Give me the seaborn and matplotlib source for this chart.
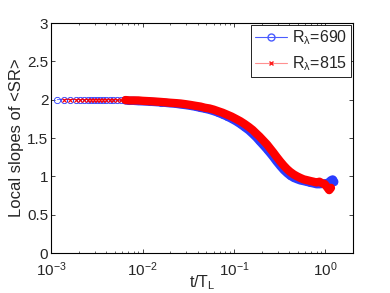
import numpy as np
import pandas as pd
import matplotlib
matplotlib.use("Agg")
import matplotlib.pyplot as plt
import seaborn as sns
from matplotlib.lines import Line2D

# time grid t/T_L
t_grid = [0.00117, 0.00140, 0.00162, 0.00186, 0.00208, 0.00230, 0.00252, 0.00275,
          0.00298, 0.00320, 0.00345, 0.00370, 0.0040, 0.0044, 0.0048, 0.0053,
          0.0058, 0.0065, 0.0072, 0.0080, 0.0090, 0.010, 0.012, 0.014, 0.016,
          0.018, 0.020, 0.023, 0.026, 0.030, 0.034, 0.038, 0.043, 0.048, 0.054,
          0.060, 0.067, 0.075, 0.084, 0.094, 0.105, 0.117, 0.130, 0.145, 0.160,
          0.175, 0.190, 0.210, 0.230, 0.250, 0.270, 0.290, 0.320, 0.350, 0.380,
          0.410, 0.450, 0.490, 0.530, 0.580, 0.630, 0.680, 0.740, 0.800, 0.860,
          0.920, 0.980, 1.040, 1.100, 1.150, 1.200, 1.250]

# local slopes, R_lambda = 690 (blue circles)
sr_690 = [2.00, 2.00, 2.00, 2.00, 2.00, 2.00, 2.00, 2.00,
          2.00, 2.00, 2.00, 2.00, 2.00, 1.995, 1.995, 1.995,
          1.99, 1.99, 1.985, 1.985, 1.98, 1.978, 1.973, 1.968, 1.963,
          1.958, 1.952, 1.947, 1.937, 1.928, 1.918, 1.908, 1.893, 1.882, 1.867,
          1.85, 1.83, 1.805, 1.78, 1.75, 1.718, 1.682, 1.642, 1.6, 1.553,
          1.508, 1.46, 1.403, 1.35, 1.298, 1.248, 1.198, 1.135, 1.082, 1.042,
          1.01, 0.98, 0.962, 0.947, 0.937, 0.927, 0.917, 0.907, 0.897, 0.897,
          0.90, 0.91, 0.90, 0.93, 0.95, 0.96, 0.93]

# local slopes, R_lambda = 815 (red crosses), starts at second grid point
t_815 = t_grid[1:-2]
sr_815 = [2.00, 2.00, 2.00, 2.00, 2.00, 2.00, 2.00,
          2.00, 2.00, 2.00, 2.00, 2.00, 2.00, 2.00, 2.00,
          1.995, 1.995, 1.99, 1.99, 1.99, 1.985, 1.98, 1.975, 1.97,
          1.965, 1.96, 1.955, 1.95, 1.94, 1.93, 1.92, 1.91, 1.895, 1.885,
          1.87, 1.85, 1.83, 1.805, 1.78, 1.75, 1.72, 1.685, 1.645, 1.605,
          1.56, 1.52, 1.465, 1.415, 1.36, 1.31, 1.26, 1.195, 1.14, 1.095,
          1.06, 1.025, 1.00, 0.98, 0.96, 0.95, 0.94, 0.93, 0.92, 0.93,
          0.91, 0.90, 0.86, 0.82, 0.85]

labels = ["R$_\\lambda$=690", "R$_\\lambda$=815"]

sns.set_theme(style="ticks")
plt.rcParams['font.family'] = ['Liberation Sans', 'DejaVu Sans']
plt.rcParams['mathtext.default'] = 'regular'
plt.rcParams['xtick.direction'] = 'in'
plt.rcParams['ytick.direction'] = 'in'

df_a = pd.DataFrame({'t': t_grid, 'sr': sr_690})
df_b = pd.DataFrame({'t': t_815, 'sr': sr_815})

fig = plt.figure(figsize=(3.9, 2.93), dpi=100)
ax = fig.add_axes([0.131, 0.1365, 0.774, 0.785])

blue = '#2a3cff'
red = '#ff0000'

# thick band where the markers pile up
sns.lineplot(data=df_a[df_a.t >= 0.006], x='t', y='sr', color=blue, linewidth=6.0,
             ax=ax, legend=False)
sns.lineplot(data=df_a, x='t', y='sr', color=blue, linewidth=0.5, marker='o',
             markersize=4.5, markerfacecolor='none', markeredgecolor=blue,
             markeredgewidth=0.6, ax=ax, legend=False)
sns.lineplot(data=df_b[df_b.t >= 0.006], x='t', y='sr', color=red, linewidth=6.0,
             ax=ax, legend=False)
sns.lineplot(data=df_b, x='t', y='sr', color=red, linewidth=0.5, marker='x',
             markersize=3.5, markeredgecolor=red, markeredgewidth=0.8,
             ax=ax, legend=False)

ax.set_xscale('log')
ax.set_xlim(1e-3, 2)
ax.set_ylim(0, 3)
ax.set_yticks([0, 0.5, 1, 1.5, 2, 2.5, 3])
ax.set_yticklabels(['0', '0.5', '1', '1.5', '2', '2.5', '3'])
ax.tick_params(which='both', top=True, right=True, labelsize=11)
ax.tick_params(axis='x', pad=5.5)
ax.tick_params(axis='y', pad=2)
ax.tick_params(which='major', length=3, width=0.6)
ax.tick_params(which='minor', length=1.5, width=0.5)
for s in ax.spines.values():
    s.set_linewidth(0.8)
    s.set_color('black')

ax.set_xlabel('t/T$_L$', fontsize=11.5, labelpad=-4)
ax.set_ylabel('Local slopes of <SR>', fontsize=12, labelpad=2)

handles = [
    Line2D([], [], color='#4a5cff', linewidth=0.8, marker='o', markersize=5,
           markerfacecolor='none', markeredgecolor='#4a5cff'),
    Line2D([], [], color='#ff9090', linewidth=0.8, marker='x', markersize=3.5,
           markeredgecolor='#ff2020'),
]
leg = ax.legend(handles, labels, loc='upper right', fontsize=11.5, frameon=True,
                fancybox=False, framealpha=1, edgecolor='black',
                borderaxespad=0.1, handlelength=2.0, labelspacing=0.45,
                borderpad=0.25, handletextpad=0.35)
leg.get_frame().set_linewidth(0.6)

fig.savefig('out.png', dpi=100)
